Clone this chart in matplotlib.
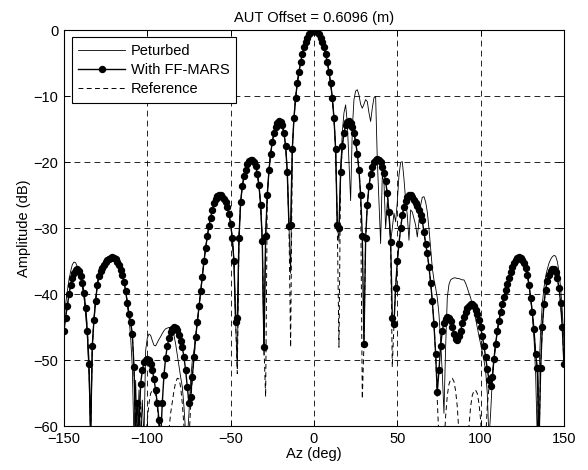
import numpy as np
import matplotlib
matplotlib.use('Agg')
import matplotlib.pyplot as plt

plt.rcParams['font.family'] = ['Liberation Sans', 'DejaVu Sans']

# azimuth grid, 1 deg steps from -150 to 150
az = np.arange(-150, 151, 1)

# FF-MARS reconstruction (dB)
ff_mars = [
    -45.5, -43.5, -41.7, -40.0, -38.6, -37.5, -36.7, -36.3, -36.2, -36.5,   # -150
    -37.2, -38.3, -39.8, -42.0, -45.5, -50.5, -61.0, -47.8, -43.8, -41.0,   # -140
    -38.6, -37.2, -36.5, -36.0, -35.5, -35.1, -34.8, -34.6, -34.45, -34.4,  # -130
    -34.5, -34.7, -35.1, -35.6, -36.3, -37.1, -38.1, -39.5, -41.3, -43.0,   # -120
    -44.2, -46.0, -51.0, -60.5, -56.5, -60.5, -53.5, -51.5, -50.3, -49.9,   # -110
    -49.8, -50.0, -50.5, -51.4, -52.8, -54.5, -56.5, -59.0, -62.0, -56.4,   # -100
    -52.2, -49.6, -47.8, -46.6, -45.7, -45.2, -45.0, -45.1, -45.4, -46.1,   # -90
    -47.1, -48.0, -49.5, -51.5, -54.0, -56.5, -55.5, -52.5, -49.5, -46.5,   # -80
    -44.2, -41.8, -39.5, -37.3, -35.0, -33.0, -31.2, -29.6, -28.4, -27.2,   # -70
    -26.2, -25.5, -25.1, -25.0, -25.0, -25.2, -25.5, -26.0, -26.8, -27.8,   # -60
    -29.3, -31.5, -35.0, -44.2, -43.6, -31.5, -26.0, -23.6, -22.1, -21.1,   # -50
    -20.3, -19.8, -19.6, -19.6, -19.9, -20.6, -21.7, -23.5, -26.4, -31.9,   # -40
    -48.0, -31.1, -24.9, -21.2, -18.7, -16.9, -15.6, -14.6, -14.0, -13.8,   # -30
    -13.9, -14.4, -15.6, -17.5, -21.5, -29.6, -29.5, -18.0, -13.3, -10.2,   # -20
    -8.0, -6.3, -4.85, -3.6, -2.55, -1.75, -1.1, -0.62, -0.27, -0.06,       # -10
    0.0, -0.06, -0.27, -0.62, -1.1, -1.75, -2.55, -3.6, -4.85, -6.3,        # 0
    -8.0, -10.2, -13.3, -18.0, -29.5, -30.0, -21.5, -17.5, -15.6, -14.4,    # 10
    -13.9, -13.8, -14.0, -14.6, -15.6, -16.9, -18.7, -21.2, -24.9, -31.1,   # 20
    -47.5, -31.5, -26.5, -23.6, -21.8, -20.7, -20.0, -19.6, -19.5, -19.6,   # 30
    -20.0, -20.7, -21.6, -22.9, -24.7, -27.5, -32.0, -43.5, -44.5, -39.0,   # 40
    -35.0, -32.3, -30.0, -28.0, -26.8, -25.9, -25.3, -25.0, -25.0, -25.3,   # 50
    -25.7, -26.2, -26.6, -27.2, -27.9, -28.8, -30.6, -32.3, -33.8, -35.8,   # 60
    -38.2, -41.0, -44.5, -49.0, -54.8, -51.5, -47.8, -45.6, -44.3, -43.7,   # 70
    -43.4, -43.6, -44.0, -45.0, -46.0, -46.7, -46.9, -46.3, -45.5, -44.4,   # 80
    -43.4, -42.6, -42.0, -41.7, -41.5, -41.5, -41.8, -42.3, -43.0, -43.9,   # 90
    -45.0, -46.3, -47.8, -49.5, -51.3, -53.0, -53.8, -52.5, -49.8, -47.5,   # 100
    -45.6, -44.0, -42.7, -41.5, -40.4, -39.4, -38.4, -37.5, -36.6, -35.9,   # 110
    -35.2, -34.8, -34.5, -34.4, -34.5, -34.8, -35.3, -36.0, -37.0, -38.5,   # 120
    -40.5, -42.6, -45.3, -49.0, -51.2, -63.0, -51.2, -45.0, -41.5, -39.3,   # 130
    -37.9, -37.0, -36.5, -36.2, -36.2, -36.6, -37.5, -39.0, -41.3, -45.0,   # 140
    -50.5,                                                                  # 150
]

# perturbed measurement (dB)
peturbed = [
    -44.0, -41.5, -39.5, -37.8, -36.5, -35.5, -35.1, -35.2, -35.8, -36.5,   # -150
    -37.5, -38.8, -40.5, -43.0, -46.5, -52.0, -63.0, -48.0, -43.5, -40.8,   # -140
    -38.4, -37.0, -36.2, -35.6, -35.1, -34.7, -34.4, -34.2, -34.1, -34.1,   # -130
    -34.2, -34.4, -34.8, -35.3, -36.0, -36.9, -38.0, -39.4, -41.2, -43.5,   # -120
    -46.5, -51.0, -62.0, -53.0, -62.0, -54.5, -62.0, -56.0, -62.0, -48.5,   # -110
    -46.6, -46.0, -46.2, -47.0, -47.7, -47.8, -47.3, -46.8, -46.4, -45.9,   # -100
    -45.5, -45.2, -45.1, -45.0, -45.1, -45.5, -46.2, -47.5, -49.2, -51.0,   # -90
    -52.5, -54.0, -57.0, -61.0, -62.0, -58.0, -53.0, -50.0, -48.5, -46.5,   # -80
    -44.2, -41.8, -39.5, -37.3, -35.0, -33.0, -31.2, -29.6, -28.4, -27.2,   # -70
    -26.2, -25.5, -25.1, -25.0, -25.0, -25.2, -25.5, -26.0, -26.8, -27.8,   # -60
    -29.3, -31.5, -35.0, -44.2, -51.2, -31.5, -26.0, -23.6, -22.1, -21.1,   # -50
    -20.3, -19.8, -19.6, -19.6, -19.9, -20.6, -21.7, -23.5, -26.4, -31.9,   # -40
    -49.2, -31.1, -24.9, -21.2, -18.7, -16.9, -15.6, -14.6, -14.0, -13.8,   # -30
    -13.9, -14.4, -15.6, -17.5, -21.5, -29.6, -36.8, -18.0, -13.3, -10.2,   # -20
    -8.0, -6.3, -4.85, -3.6, -2.55, -1.75, -1.1, -0.62, -0.27, -0.06,       # -10
    0.0, -0.06, -0.27, -0.62, -1.1, -1.75, -2.55, -3.6, -4.85, -6.3,        # 0
    -8.0, -10.2, -13.3, -18.0, -29.5, -32.0, -21.0, -15.5, -12.5, -11.3,    # 10
    -14.0, -20.0, -25.8, -15.0, -10.5, -9.2, -9.0, -9.8, -11.2, -11.8,      # 20
    -11.2, -10.5, -10.8, -12.5, -13.8, -11.8, -10.2, -10.0, -19.6, -26.0,   # 30
    -32.3, -22.0, -23.0, -30.0, -26.0, -28.0, -32.0, -30.0, -27.7, -29.0,   # 40
    -26.0, -22.0, -20.0, -19.9, -22.5, -25.7, -28.0, -31.8, -27.2, -27.5,   # 50
    -28.5, -29.5, -31.3, -29.0, -26.5, -25.3, -25.2, -26.0, -27.5, -30.0,   # 60
    -33.0, -36.0, -37.8, -39.0, -40.5, -43.0, -47.0, -52.0, -58.0, -48.0,   # 70
    -40.5, -38.5, -37.8, -37.6, -37.5, -37.5, -37.6, -37.6, -37.7, -37.8,   # 80
    -37.8, -38.3, -39.0, -39.8, -40.5, -41.5, -42.5, -43.7, -45.0, -46.3,   # 90
    -47.5, -48.7, -50.0, -51.5, -55.0, -62.0, -58.0, -53.0, -50.0, -47.5,   # 100
    -45.5, -44.0, -42.7, -41.5, -40.4, -39.4, -38.4, -37.5, -36.6, -35.9,   # 110
    -35.2, -34.8, -34.5, -34.4, -34.5, -34.8, -35.3, -36.0, -37.0, -38.5,   # 120
    -40.5, -43.0, -46.5, -52.0, -62.0, -52.0, -45.5, -41.5, -39.0, -37.3,   # 130
    -36.2, -35.3, -34.7, -34.3, -34.1, -34.2, -35.0, -36.5, -39.0, -42.5,   # 140
    -47.0,                                                                  # 150
]

# unperturbed reference (dB)
reference = [
    -45.5, -43.5, -41.7, -40.0, -38.6, -37.5, -36.7, -36.3, -36.2, -36.5,   # -150
    -37.2, -38.3, -39.8, -42.0, -45.5, -50.5, -61.0, -47.8, -43.8, -41.0,   # -140
    -38.6, -37.2, -36.5, -36.0, -35.5, -35.1, -34.8, -34.6, -34.45, -34.4,  # -130
    -34.5, -34.7, -35.1, -35.6, -36.3, -37.1, -38.1, -39.5, -41.3, -43.0,   # -120
    -44.2, -46.0, -51.0, -60.5, -56.5, -60.5, -57.0, -62.0, -66.0, -63.0,   # -110
    -59.0, -56.5, -55.0, -54.5, -54.6, -55.3, -57.0, -60.0, -64.0, -68.0,   # -100
    -70.0, -68.0, -64.0, -60.5, -58.0, -56.3, -54.6, -53.3, -52.7, -52.8,   # -90
    -54.0, -56.5, -60.0, -64.0, -66.0, -62.0, -57.0, -52.5, -49.5, -46.5,   # -80
    -44.2, -41.8, -39.5, -37.3, -35.0, -33.0, -31.2, -29.6, -28.4, -27.2,   # -70
    -26.2, -25.5, -25.1, -25.0, -25.0, -25.2, -25.5, -26.0, -26.8, -27.8,   # -60
    -29.3, -31.5, -35.0, -44.2, -52.0, -31.5, -26.0, -23.6, -22.1, -21.1,   # -50
    -20.3, -19.8, -19.6, -19.6, -19.9, -20.6, -21.7, -23.5, -26.4, -31.9,   # -40
    -48.0, -55.5, -24.9, -21.2, -18.7, -16.9, -15.6, -14.6, -14.0, -13.8,   # -30
    -13.9, -14.4, -15.6, -17.5, -21.5, -29.6, -48.0, -18.0, -13.3, -10.2,   # -20
    -8.0, -6.3, -4.85, -3.6, -2.55, -1.75, -1.1, -0.62, -0.27, -0.06,       # -10
    0.0, -0.06, -0.27, -0.62, -1.1, -1.75, -2.55, -3.6, -4.85, -6.3,        # 0
    -8.0, -10.2, -13.3, -18.0, -29.5, -48.0, -21.5, -17.5, -15.6, -14.4,    # 10
    -13.9, -13.8, -14.0, -14.6, -15.6, -16.9, -18.7, -21.2, -24.9, -55.8,   # 20
    -47.5, -31.5, -26.5, -23.6, -21.8, -20.7, -20.0, -19.6, -19.5, -19.6,   # 30
    -20.0, -20.7, -21.6, -22.9, -24.7, -27.5, -32.0, -51.0, -44.5, -39.0,   # 40
    -35.0, -32.3, -30.0, -28.0, -26.8, -25.9, -25.3, -25.0, -25.0, -25.3,   # 50
    -25.7, -26.2, -26.6, -27.2, -27.9, -28.8, -30.6, -32.3, -33.8, -35.8,   # 60
    -38.2, -41.0, -44.5, -49.0, -56.0, -62.0, -66.0, -66.0, -63.0, -58.5,   # 70
    -55.3, -53.6, -52.9, -52.7, -53.2, -54.6, -57.0, -61.0, -66.0, -70.0,   # 80
    -70.0, -68.0, -64.0, -60.0, -57.0, -55.3, -54.6, -54.5, -55.0, -56.5,   # 90
    -59.0, -63.0, -66.0, -62.0, -57.0, -54.0, -53.8, -52.5, -49.8, -47.5,   # 100
    -45.6, -44.0, -42.7, -41.5, -40.4, -39.4, -38.4, -37.5, -36.6, -35.9,   # 110
    -35.2, -34.8, -34.5, -34.4, -34.5, -34.8, -35.3, -36.0, -37.0, -38.5,   # 120
    -40.5, -42.6, -45.3, -49.0, -51.2, -63.0, -51.2, -45.0, -41.5, -39.3,   # 130
    -37.9, -37.0, -36.5, -36.2, -36.2, -36.6, -37.5, -39.0, -41.3, -45.0,   # 140
    -50.5,                                                                  # 150
]

x_ticks = [-150, -100, -50, 0, 50, 100, 150]
y_ticks = [-60, -50, -40, -30, -20, -10, 0]

fig = plt.figure(figsize=(5.88, 4.70), dpi=100)
ax = fig.add_axes([0.1088, 0.0926, 0.8503, 0.843])

ax.plot(az, peturbed, color='black', linewidth=0.6, label='Peturbed', zorder=3)
ax.plot(az, ff_mars, color='black', linewidth=1.0, marker='o', markersize=4.3,
        label='With FF-MARS', zorder=4)
ax.plot(az, reference, color='black', linewidth=0.7, linestyle=(0, (5, 3.5)),
        label='Reference', zorder=2)

ax.set_xlim(-150, 150)
ax.set_ylim(-60, 0)
ax.set_xticks(x_ticks)
ax.set_yticks(y_ticks)
ax.grid(True, color='black', linewidth=0.6, linestyle=(0, (7, 5)))
ax.tick_params(direction='in', top=True, right=True, length=4, width=0.6,
               labelsize=10.5, pad=4)
for s in ax.spines.values():
    s.set_linewidth(0.8)

ax.set_title('AUT Offset = 0.6096 (m)', fontsize=10.5, pad=6)
ax.set_xlabel('Az (deg)', fontsize=10.5, labelpad=1)
ax.set_ylabel('Amplitude (dB)', fontsize=10.5, labelpad=2)

leg = ax.legend(loc='upper left', bbox_to_anchor=(0.0154, 0.982), borderaxespad=0,
                fontsize=10.5, handlelength=3.2, handletextpad=0.4, labelspacing=0.35,
                borderpad=0.45, fancybox=False, framealpha=1, edgecolor='black')
leg.get_frame().set_linewidth(0.8)

fig.savefig('out.png', dpi=100)
